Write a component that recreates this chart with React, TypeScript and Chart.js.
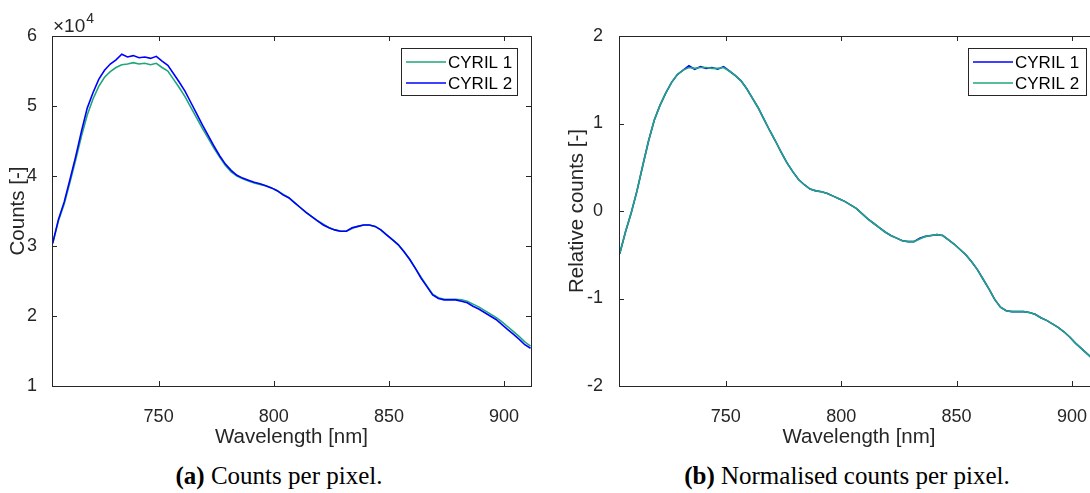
import React, { useEffect, useRef } from "react";
import { Chart, registerables } from "chart.js";

Chart.register(...registerables);

// ---------- data ----------
const WAVELENGTH_NM = [
  704, 706.5, 709, 711.5, 714, 716.5, 719, 721.5, 724, 726.5,
  729, 731.5, 734, 736.5, 739, 741.5, 744, 746.5, 749, 751.5,
  754, 756.5, 759, 761.5, 764, 766.5, 769, 771.5, 774, 776.5,
  779, 781.5, 784, 786.5, 789, 791.5, 794, 796.5, 799, 801.5,
  804, 806.5, 809, 811.5, 814, 816.5, 819, 821.5, 824, 826.5,
  829, 831.5, 834, 836.5, 839, 841.5, 844, 846.5, 849, 851.5,
  854, 856.5, 859, 861.5, 864, 866.5, 869, 871.5, 874, 876.5,
  879, 881.5, 884, 886.5, 889, 891.5, 894, 896.5, 899, 901.5,
  904, 906.5, 909, 911.5,
];

// counts per pixel, in units of 10^4
const COUNTS_CYRIL1 = [
  3.04, 3.36, 3.60, 3.91, 4.23, 4.57, 4.87, 5.10, 5.28, 5.41,
  5.49, 5.55, 5.59, 5.60, 5.62, 5.60, 5.61, 5.59, 5.61, 5.55,
  5.50, 5.38, 5.26, 5.13, 4.98, 4.83, 4.68, 4.54, 4.40, 4.27,
  4.15, 4.06, 4.00, 3.96, 3.93, 3.90, 3.88, 3.86, 3.83, 3.79,
  3.74, 3.69, 3.62, 3.55, 3.48, 3.42, 3.36, 3.31, 3.26, 3.23,
  3.21, 3.21, 3.25, 3.28, 3.30, 3.30, 3.28, 3.23, 3.16, 3.09,
  3.02, 2.92, 2.81, 2.68, 2.55, 2.43, 2.31, 2.26, 2.24, 2.24,
  2.24, 2.23, 2.21, 2.17, 2.13, 2.08, 2.03, 1.98, 1.92, 1.85,
  1.78, 1.71, 1.63, 1.57,
];
const COUNTS_CYRIL2 = [
  3.04, 3.38, 3.63, 3.95, 4.28, 4.64, 4.97, 5.19, 5.38, 5.51,
  5.60, 5.66, 5.74, 5.70, 5.72, 5.69, 5.70, 5.68, 5.71, 5.64,
  5.58, 5.46, 5.34, 5.21, 5.05, 4.89, 4.73, 4.58, 4.43, 4.29,
  4.17, 4.08, 4.01, 3.97, 3.94, 3.91, 3.89, 3.86, 3.83, 3.79,
  3.73, 3.69, 3.62, 3.55, 3.48, 3.42, 3.36, 3.30, 3.26, 3.23,
  3.21, 3.21, 3.26, 3.28, 3.30, 3.30, 3.28, 3.23, 3.16, 3.09,
  3.02, 2.92, 2.81, 2.68, 2.54, 2.42, 2.30, 2.25, 2.23, 2.23,
  2.23, 2.21, 2.19, 2.14, 2.10, 2.05, 2.00, 1.95, 1.88, 1.81,
  1.74, 1.67, 1.59, 1.54,
];

// normalised counts per pixel
const REL_CYRIL1 = [
  -0.49, -0.24, -0.02, 0.23, 0.52, 0.80, 1.04, 1.21, 1.35, 1.47,
  1.56, 1.61, 1.66, 1.62, 1.65, 1.63, 1.64, 1.62, 1.65, 1.60,
  1.55, 1.49, 1.40, 1.29, 1.18, 1.05, 0.92, 0.80, 0.67, 0.55,
  0.45, 0.36, 0.30, 0.25, 0.23, 0.22, 0.20, 0.17, 0.14, 0.11,
  0.07, 0.03, -0.03, -0.09, -0.14, -0.19, -0.24, -0.28, -0.31, -0.34,
  -0.35, -0.35, -0.31, -0.29, -0.28, -0.27, -0.28, -0.33, -0.38, -0.44,
  -0.50, -0.58, -0.67, -0.78, -0.89, -1.01, -1.10, -1.14, -1.15, -1.15,
  -1.15, -1.16, -1.18, -1.22, -1.25, -1.29, -1.33, -1.38, -1.44, -1.51,
  -1.57, -1.63, -1.69, -1.74,
];
const REL_CYRIL2 = [
  -0.49, -0.24, -0.02, 0.23, 0.52, 0.80, 1.04, 1.21, 1.35, 1.47,
  1.56, 1.61, 1.64, 1.63, 1.64, 1.64, 1.63, 1.63, 1.64, 1.60,
  1.55, 1.49, 1.40, 1.29, 1.18, 1.05, 0.92, 0.80, 0.67, 0.55,
  0.45, 0.36, 0.30, 0.25, 0.23, 0.22, 0.20, 0.17, 0.14, 0.11,
  0.07, 0.03, -0.03, -0.09, -0.14, -0.19, -0.24, -0.28, -0.31, -0.34,
  -0.35, -0.35, -0.32, -0.29, -0.28, -0.27, -0.28, -0.33, -0.38, -0.44,
  -0.50, -0.58, -0.67, -0.78, -0.89, -1.01, -1.10, -1.14, -1.15, -1.15,
  -1.15, -1.16, -1.18, -1.22, -1.25, -1.29, -1.33, -1.38, -1.44, -1.51,
  -1.57, -1.63, -1.69, -1.74,
];

const X_TICKS = [750, 800, 850, 900];
const Y_TICKS_COUNTS = [1, 2, 3, 4, 5, 6];
const Y_TICKS_REL = [-2, -1, 0, 1, 2];
const SERIES_NAMES = ["CYRIL 1", "CYRIL 2"];

// ---------- style ----------
const GREEN = "#20a67a";
const BLUE = "#0000ff";
const AXIS = "#262626";
const SANS = "'Liberation Sans', Arial, Helvetica, sans-serif";
const TICK_FONT = 18;
const LABEL_FONT = 20.5;
const X_MIN = 703.7;
const X_MAX = 911.7;
const TICK_LEN = 5;

type Legend = { x: number; y: number; w: number; h: number; items: { label: string; color: string }[] };

function framePlugin(legend: Legend, exponent: boolean) {
  return {
    id: "matlabFrame",
    afterDatasetsDraw(chart: any) {
      const { ctx, chartArea, scales } = chart;
      const { left, right, top, bottom } = chartArea;
      const xs = scales.x;
      const ys = scales.y;
      ctx.save();
      ctx.strokeStyle = AXIS;
      ctx.lineWidth = 1;
      ctx.beginPath();
      for (const t of xs.ticks) {
        const px = Math.round(xs.getPixelForValue(t.value)) + 0.5;
        ctx.moveTo(px, bottom);
        ctx.lineTo(px, bottom - TICK_LEN);
        ctx.moveTo(px, top);
        ctx.lineTo(px, top + TICK_LEN);
      }
      for (const t of ys.ticks) {
        const py = Math.round(ys.getPixelForValue(t.value)) + 0.5;
        ctx.moveTo(left, py);
        ctx.lineTo(left + TICK_LEN, py);
        ctx.moveTo(right, py);
        ctx.lineTo(right - TICK_LEN, py);
      }
      ctx.stroke();
      ctx.strokeRect(Math.round(left) + 0.5, Math.round(top) + 0.5, Math.round(right - left), Math.round(bottom - top));

      if (exponent) {
        ctx.fillStyle = AXIS;
        ctx.textBaseline = "alphabetic";
        ctx.textAlign = "left";
        ctx.font = `19px ${SANS}`;
        ctx.fillText("\u00d710", left + 1, top - 4);
        const w = ctx.measureText("\u00d710").width;
        ctx.font = `14px ${SANS}`;
        ctx.fillText("4", left + 1 + w + 1, top - 13);
      }

      // legend
      ctx.fillStyle = "#ffffff";
      ctx.fillRect(legend.x, legend.y, legend.w, legend.h);
      ctx.strokeStyle = AXIS;
      ctx.lineWidth = 1;
      ctx.strokeRect(legend.x + 0.5, legend.y + 0.5, legend.w, legend.h);
      ctx.font = `17px ${SANS}`;
      ctx.textBaseline = "middle";
      ctx.textAlign = "left";
      legend.items.forEach((it, i) => {
        const cy = legend.y + 14 + i * 21;
        ctx.strokeStyle = it.color;
        ctx.lineWidth = 1.5;
        ctx.beginPath();
        ctx.moveTo(legend.x + 5, cy);
        ctx.lineTo(legend.x + 45, cy);
        ctx.stroke();
        ctx.fillStyle = "#000000";
        ctx.fillText(it.label, legend.x + 47, cy + 1);
      });
      ctx.restore();
    },
  };
}

function makeConfig(opts: {
  series: { label: string; values: number[]; color: string; order: number }[];
  yMin: number;
  yMax: number;
  yTicks: number[];
  yTitle: string;
  yAxisWidth: number;
  yTitlePad: number;
  yTickPad: number;
  padRight: number;
  legend: Legend;
  exponent: boolean;
}) {
  return {
    type: "line" as const,
    data: {
      datasets: opts.series.map((s) => ({
        label: s.label,
        data: WAVELENGTH_NM.map((x, i) => ({ x, y: s.values[i] })),
        borderColor: s.color,
        backgroundColor: s.color,
        borderWidth: 1.6,
        pointRadius: 0,
        tension: 0,
        fill: false,
        order: s.order,
      })),
    },
    options: {
      responsive: false,
      animation: false as const,
      devicePixelRatio: 1,
      layout: { padding: { top: 36, right: opts.padRight, left: 0, bottom: 0 } },
      plugins: { legend: { display: false }, tooltip: { enabled: false } },
      scales: {
        x: {
          type: "linear" as const,
          min: X_MIN,
          max: X_MAX,
          grid: { display: false },
          border: { display: false },
          afterBuildTicks: (scale: any) => {
            scale.ticks = X_TICKS.map((value) => ({ value }));
          },
          afterFit: (scale: any) => {
            scale.height = 69;
          },
          ticks: {
            color: AXIS,
            font: { family: SANS, size: TICK_FONT },
            padding: 12,
            maxRotation: 0,
            callback: (v: any) => String(v),
          },
          title: {
            display: true,
            text: "Wavelength [nm]",
            color: AXIS,
            font: { family: SANS, size: LABEL_FONT },
            padding: { top: 0, bottom: 5 },
          },
        },
        y: {
          type: "linear" as const,
          min: opts.yMin,
          max: opts.yMax,
          grid: { display: false },
          border: { display: false },
          afterBuildTicks: (scale: any) => {
            scale.ticks = opts.yTicks.map((value) => ({ value }));
          },
          afterFit: (scale: any) => {
            scale.width = opts.yAxisWidth;
          },
          ticks: {
            color: AXIS,
            font: { family: SANS, size: TICK_FONT },
            padding: opts.yTickPad,
            callback: (v: any) => String(v),
          },
          title: {
            display: true,
            text: opts.yTitle,
            color: AXIS,
            font: { family: SANS, size: LABEL_FONT },
            padding: { top: opts.yTitlePad, bottom: 0 },
          },
        },
      },
    },
    plugins: [framePlugin(opts.legend, opts.exponent)],
  };
}

export default function App() {
  const leftRef = useRef<HTMLCanvasElement | null>(null);
  const rightRef = useRef<HTMLCanvasElement | null>(null);

  useEffect(() => {
    const charts: Chart[] = [];
    if (leftRef.current) {
      charts.push(
        new Chart(
          leftRef.current,
          makeConfig({
            series: [
              { label: SERIES_NAMES[0], values: COUNTS_CYRIL1, color: GREEN, order: 1 },
              { label: SERIES_NAMES[1], values: COUNTS_CYRIL2, color: BLUE, order: 0 },
            ],
            yMin: 1,
            yMax: 6,
            yTicks: Y_TICKS_COUNTS,
            yTitle: "Counts [-]",
            yAxisWidth: 52,
            yTitlePad: 6,
            yTickPad: 7,
            padRight: 14,
            legend: {
              x: 401,
              y: 48,
              w: 116,
              h: 47,
              items: [
                { label: SERIES_NAMES[0], color: GREEN },
                { label: SERIES_NAMES[1], color: BLUE },
              ],
            },
            exponent: true,
          }) as any
        )
      );
    }
    if (rightRef.current) {
      charts.push(
        new Chart(
          rightRef.current,
          makeConfig({
            series: [
              { label: SERIES_NAMES[0], values: REL_CYRIL1, color: BLUE, order: 1 },
              { label: SERIES_NAMES[1], values: REL_CYRIL2, color: GREEN, order: 0 },
            ],
            yMin: -2,
            yMax: 2,
            yTicks: Y_TICKS_REL,
            yTitle: "Relative counts [-]",
            yAxisWidth: 74,
            yTitlePad: 20,
            yTickPad: 8,
            padRight: 16,
            legend: {
              x: 423,
              y: 48,
              w: 118,
              h: 47,
              items: [
                { label: SERIES_NAMES[0], color: BLUE },
                { label: SERIES_NAMES[1], color: GREEN },
              ],
            },
            exponent: false,
          }) as any
        )
      );
    }
    return () => charts.forEach((c) => c.destroy());
  }, []);

  const captionStyle: React.CSSProperties = {
    position: "absolute",
    top: 463,
    width: 500,
    textAlign: "center",
    fontFamily: "'Liberation Serif', 'Times New Roman', serif",
    fontSize: 25,
    lineHeight: "25px",
    color: "#000",
    whiteSpace: "nowrap",
  };

  return (
    <div
      style={{
        position: "fixed",
        left: 0,
        top: 0,
        width: 1090,
        height: 493,
        overflow: "hidden",
        background: "#ffffff",
      }}
    >
      <canvas
        ref={leftRef}
        width={545}
        height={455}
        style={{ position: "absolute", left: 0, top: 0, width: 545, height: 455 }}
      />
      <canvas
        ref={rightRef}
        width={570}
        height={455}
        style={{ position: "absolute", left: 545, top: 0, width: 570, height: 455 }}
      />
      <div style={{ ...captionStyle, left: 279 - 250 }}>
        <b>(a)</b> Counts per pixel.
      </div>
      <div style={{ ...captionStyle, left: 847 - 250 }}>
        <b>(b)</b> Normalised counts per pixel.
      </div>
    </div>
  );
}
